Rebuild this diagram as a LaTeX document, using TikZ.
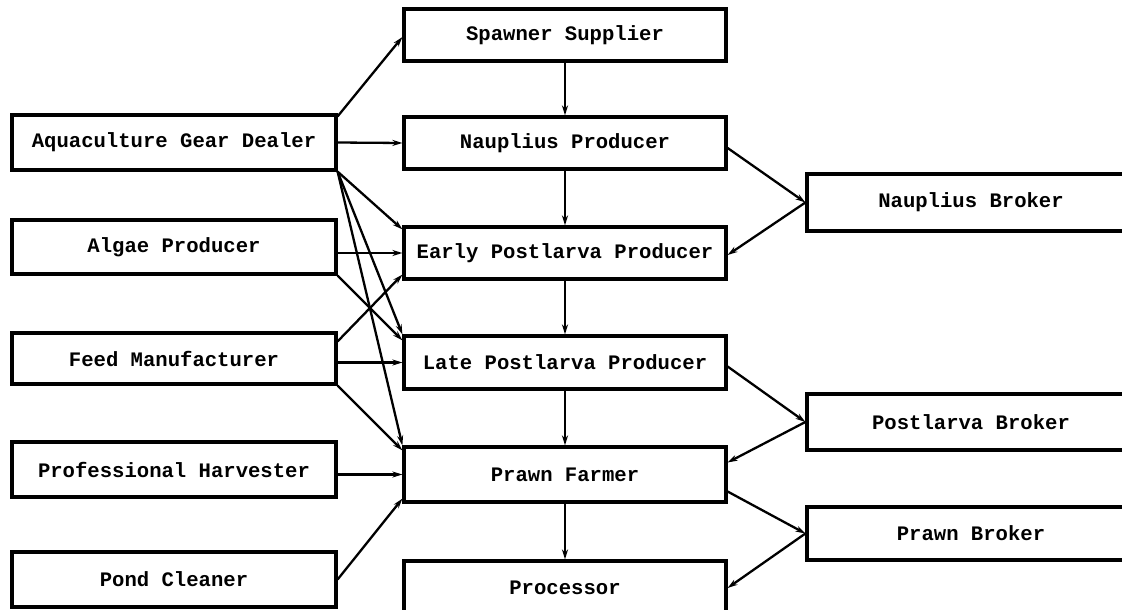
\documentclass[tikz,border=0pt]{standalone}
\usepackage{fontspec}
\setmainfont{Liberation Mono}
\usetikzlibrary{arrows.meta}
\begin{document}
\begin{tikzpicture}[x=1pt,y=-1pt,
  box/.style={draw=black,line width=3.2pt,rectangle,inner sep=0pt,
    font=\fontsize{20.6}{24}\selectfont\bfseries},
  lbox/.style={box,minimum width=324pt},
  mbox/.style={box,minimum width=322pt},
  rbox/.style={box,minimum width=328pt},
  link/.style={line width=2.3pt,-{Stealth[length=10pt,width=6pt]}}]
\useasboundingbox (0,0) rectangle (1122,610);
% left column
\node[lbox,minimum height=55pt] (gear)  at (174,142.5) {Aquaculture Gear Dealer};
\node[lbox,minimum height=54pt] (algae) at (174,247)   {Algae Producer};
\node[lbox,minimum height=51pt] (feed)  at (174,358.5) {Feed Manufacturer};
\node[lbox,minimum height=55pt] (harv)  at (174,469.5) {Professional Harvester};
\node[lbox,minimum height=55pt] (pond)  at (174,579.5) {Pond Cleaner};
% middle column
\node[mbox,minimum height=52pt] (spawn)  at (565,35)    {Spawner Supplier};
\node[mbox,minimum height=52pt] (naup)   at (565,143)   {Nauplius Producer};
\node[mbox,minimum height=52pt] (early)  at (565,253)   {Early Postlarva Producer};
\node[mbox,minimum height=53pt] (late)   at (565,362.5) {Late Postlarva Producer};
\node[mbox,minimum height=55pt] (farmer) at (565,474.5) {Prawn Farmer};
\node[mbox,minimum height=54pt] (proc)   at (565,588)   {Processor};
% right column
\node[rbox,minimum height=57pt] (nbrok)  at (971,202.5) {Nauplius Broker};
\node[rbox,minimum height=56pt] (pbrok)  at (971,422)   {Postlarva Broker};
\node[rbox,minimum height=53pt] (prbrok) at (971,533.5) {Prawn Broker};
% left-to-middle connectors
\draw[link] ([yshift=-3pt]gear.north east) -- ([yshift=-2pt]spawn.west);
\draw[link] (gear.east) -- (naup.west);
\draw[link] (gear.south east) -- ([yshift=-4pt]early.north west);
\draw[link] (gear.south east) -- (late.north west);
\draw[link] (gear.south east) -- (farmer.north west);
\draw[link] (early.west -| algae.east) -- (early.west);
\draw[link] (algae.south east) -- ([yshift=-6pt]late.north west);
\draw[link] ([yshift=-10pt]feed.north east) -- ([yshift=6pt]early.south west);
\draw[link] (late.west -| feed.east) -- (late.west);
\draw[link] (feed.south east) -- ([yshift=-5pt]farmer.north west);
\draw[link] (farmer.west -| harv.east) -- (farmer.west);
\draw[link] (pond.east) -- ([yshift=5pt]farmer.south west);
% middle chain
\draw[link] (spawn) -- (naup);
\draw[link] (naup) -- (early);
\draw[link] (early) -- (late);
\draw[link] (late) -- (farmer);
\draw[link] (farmer) -- (proc);
% brokers
\draw[link] ([yshift=-5pt]naup.east) -- (nbrok.west);
\draw[link] (nbrok.west) -- ([yshift=-2pt]early.east);
\draw[link] ([yshift=-4pt]late.east) -- (pbrok.west);
\draw[link] (pbrok.west) -- ([yshift=12pt]farmer.east);
\draw[link] ([yshift=-17pt]farmer.east) -- (prbrok.west);
\draw[link] (prbrok.west) -- (proc.east);
\end{tikzpicture}
\end{document}
